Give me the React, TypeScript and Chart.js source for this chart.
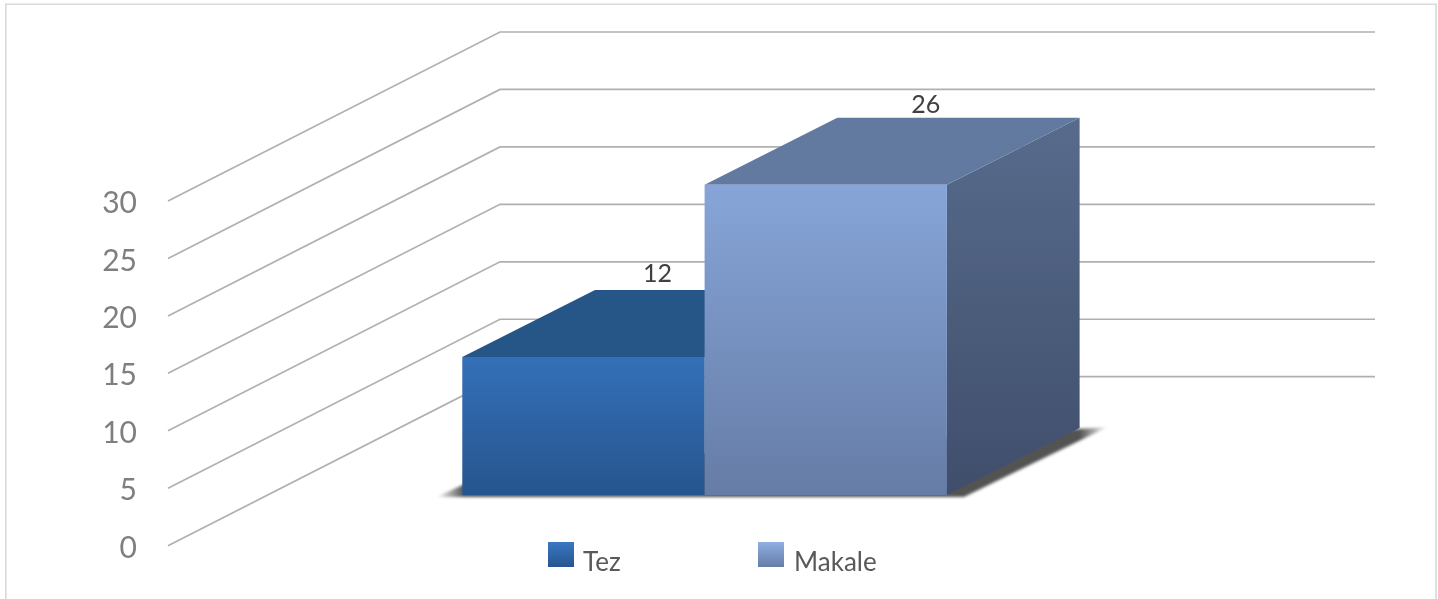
import React, { useEffect, useRef } from "react";
import { Chart, registerables } from "chart.js";

Chart.register(...registerables);

const categories = [""];
const seriesNames = ["Tez", "Makale"];
const tezValues = [12];
// The bar is drawn as tall as 27 on the axis, while the picture's own label reads 26.
const makaleValues = [27];
const valueLabels = ["12", "26"];
const axisMin = 0;
const axisMax = 30;
const axisStep = 5;

const FONT = "Lato, Carlito, sans-serif";
const WALL = { x: 332, y: 169 };
const FRONT = { x: 99.6, y: 50.7 };
const DEPTH = { x: 132.7, y: 67 };
const STYLES = [
  { front: ["#3470b8", "#26558e"], top: "#265587", side: ["#26558e", "#1c3f6a"], key: ["#3b77c2", "#25558f"], lx: 74, ly: 16 },
  { front: ["#87a5d8", "#657ca6"], top: "#627a9f", side: ["#586b8c", "#3f4e6b"], key: ["#8fafe3", "#667da8"], lx: 100, ly: 12.5 },
];

function vGrad(ctx: CanvasRenderingContext2D, y0: number, y1: number, c: string[]) {
  const g = ctx.createLinearGradient(0, y0, 0, y1);
  g.addColorStop(0, c[0]);
  g.addColorStop(1, c[1]);
  return g;
}

const scenePlugin = {
  id: "scene3d",
  beforeDraw(chart: any) {
    const { ctx } = chart;
    ctx.save();
    ctx.fillStyle = "#ffffff";
    ctx.fillRect(0, 0, 1438, 599);
    ctx.strokeStyle = "#d9d9d9";
    ctx.lineWidth = 1.6;
    ctx.beginPath();
    ctx.moveTo(5.8, 610);
    ctx.lineTo(5.8, 4.2);
    ctx.lineTo(1436, 4.2);
    ctx.lineTo(1436, 610);
    ctx.stroke();
    ctx.restore();
  },
  beforeDatasetsDraw(chart: any) {
    const { ctx, chartArea, scales } = chart;
    const y = scales.y;
    ctx.save();
    // walls
    ctx.strokeStyle = "#b0b0b0";
    ctx.lineWidth = 1.7;
    y.ticks.forEach((t: any) => {
      const p = y.getPixelForValue(t.value);
      ctx.beginPath();
      ctx.moveTo(chartArea.left, p);
      ctx.lineTo(chartArea.left + WALL.x, p - WALL.y);
      ctx.lineTo(chartArea.right + WALL.x + 1, p - WALL.y);
      ctx.stroke();
    });

    // floor shadow, fading out at its two tips
    const first = chart.getDatasetMeta(0).data[0];
    const last = chart.getDatasetMeta(1).data[0];
    const bx0 = first.x - first.width / 2 + FRONT.x;
    const bx1 = last.x + last.width / 2 + FRONT.x;
    const by = y.getPixelForValue(0) - FRONT.y;
    const tipL = bx0 - 26;
    const tipR = bx1 + DEPTH.x + 28;
    const span = tipR - tipL;
    const sg = ctx.createLinearGradient(tipL, 0, tipR, 0);
    sg.addColorStop(0, "rgba(40,40,40,0)");
    sg.addColorStop(28 / span, "rgba(40,40,40,0.8)");
    sg.addColorStop(1 - 28 / span, "rgba(40,40,40,0.8)");
    sg.addColorStop(1, "rgba(40,40,40,0)");
    ctx.save();
    ctx.filter = "blur(1.6px)";
    ctx.fillStyle = sg;
    ctx.beginPath();
    ctx.moveTo(tipL, by + 2);
    ctx.lineTo(bx0 + 40, by - 28);
    ctx.lineTo(tipR, by - DEPTH.y - 1);
    ctx.lineTo(bx1 + 17, by + 2);
    ctx.closePath();
    ctx.fill();
    ctx.restore();

    // bars: depth faces, then the library's own bar element as the front face
    [0, 1].forEach((i) => {
      const el = chart.getDatasetMeta(i).data[0];
      const st = STYLES[i];
      const l = el.x - el.width / 2 + FRONT.x;
      const r = el.x + el.width / 2 + FRONT.x;
      const t = el.y - FRONT.y;
      const b = el.base - FRONT.y;
      ctx.fillStyle = vGrad(ctx, t - DEPTH.y, b, st.side);
      ctx.beginPath();
      ctx.moveTo(r, t);
      ctx.lineTo(r + DEPTH.x, t - DEPTH.y);
      ctx.lineTo(r + DEPTH.x, b - DEPTH.y);
      ctx.lineTo(r, b);
      ctx.closePath();
      ctx.fill();
      ctx.fillStyle = st.top;
      ctx.beginPath();
      ctx.moveTo(l, t);
      ctx.lineTo(l + DEPTH.x, t - DEPTH.y);
      ctx.lineTo(r + DEPTH.x, t - DEPTH.y);
      ctx.lineTo(r, t);
      ctx.closePath();
      ctx.fill();
      ctx.save();
      ctx.translate(FRONT.x, -FRONT.y);
      el.draw(ctx);
      ctx.restore();
    });

    // value labels
    ctx.fillStyle = "#404040";
    ctx.font = `25px ${FONT}`;
    ctx.textAlign = "center";
    ctx.textBaseline = "middle";
    [0, 1].forEach((i) => {
      const el = chart.getDatasetMeta(i).data[0];
      ctx.fillText(
        valueLabels[i],
        el.x + FRONT.x + STYLES[i].lx,
        el.y - FRONT.y - DEPTH.y - STYLES[i].ly,
      );
    });

    // legend
    const keyX = [548, 758];
    const textX = [583, 794];
    seriesNames.forEach((name, i) => {
      ctx.fillStyle = vGrad(ctx, 542, 567, STYLES[i].key);
      ctx.fillRect(keyX[i], 542, 26, 25);
      ctx.fillStyle = "#595959";
      ctx.font = `26px ${FONT}`;
      ctx.textAlign = "left";
      ctx.textBaseline = "alphabetic";
      ctx.fillText(name, textX[i], 570.5);
    });
    ctx.restore();
    return false;
  },
};

export default function App() {
  const ref = useRef<HTMLCanvasElement | null>(null);
  useEffect(() => {
    document.body.style.margin = "0";
    const frontGrad = (i: number) => (c: any) => {
      const ch = c.chart;
      if (!ch.chartArea) return STYLES[i].front[0];
      const y = ch.scales.y;
      const v = i === 0 ? tezValues[0] : makaleValues[0];
      return vGrad(ch.ctx, y.getPixelForValue(v), y.getPixelForValue(0), STYLES[i].front);
    };
    const chart = new Chart(ref.current as HTMLCanvasElement, {
      type: "bar",
      data: {
        labels: categories,
        datasets: [
          { label: seriesNames[0], data: tezValues, backgroundColor: frontGrad(0), borderWidth: 0 },
          { label: seriesNames[1], data: makaleValues, backgroundColor: frontGrad(1), borderWidth: 0 },
        ],
      },
      options: {
        responsive: false,
        devicePixelRatio: 1,
        animation: false,
        layout: { padding: { left: 0, right: 396, top: 201, bottom: 53.3 } },
        datasets: { bar: { categoryPercentage: 0.5545, barPercentage: 1 } },
        plugins: { legend: { display: false }, title: { display: false }, tooltip: { enabled: false } },
        scales: {
          x: { display: false, grid: { display: false } },
          y: {
            min: axisMin,
            max: axisMax,
            afterFit: (s: any) => {
              s.width = 168;
              if (!s.__shifted) {
                s.__shifted = true;
                const orig = s.drawLabels;
                s.drawLabels = function (area: any) {
                  this.ctx.save();
                  this.ctx.translate(0, 2.4);
                  orig.call(this, area);
                  this.ctx.restore();
                };
              }
            },
            grid: { display: false },
            border: { display: false },
            ticks: {
              stepSize: axisStep,
              color: "#7f7f7f",
              padding: 23,
              font: { family: FONT, size: 30 },
            },
          },
        },
      },
      plugins: [scenePlugin],
    } as any);
    return () => chart.destroy();
  }, []);
  return (
    <div style={{ position: "absolute", left: 0, top: 0, width: 1438, height: 599 }}>
      <canvas ref={ref} width={1438} height={599} style={{ display: "block" }} />
    </div>
  );
}
